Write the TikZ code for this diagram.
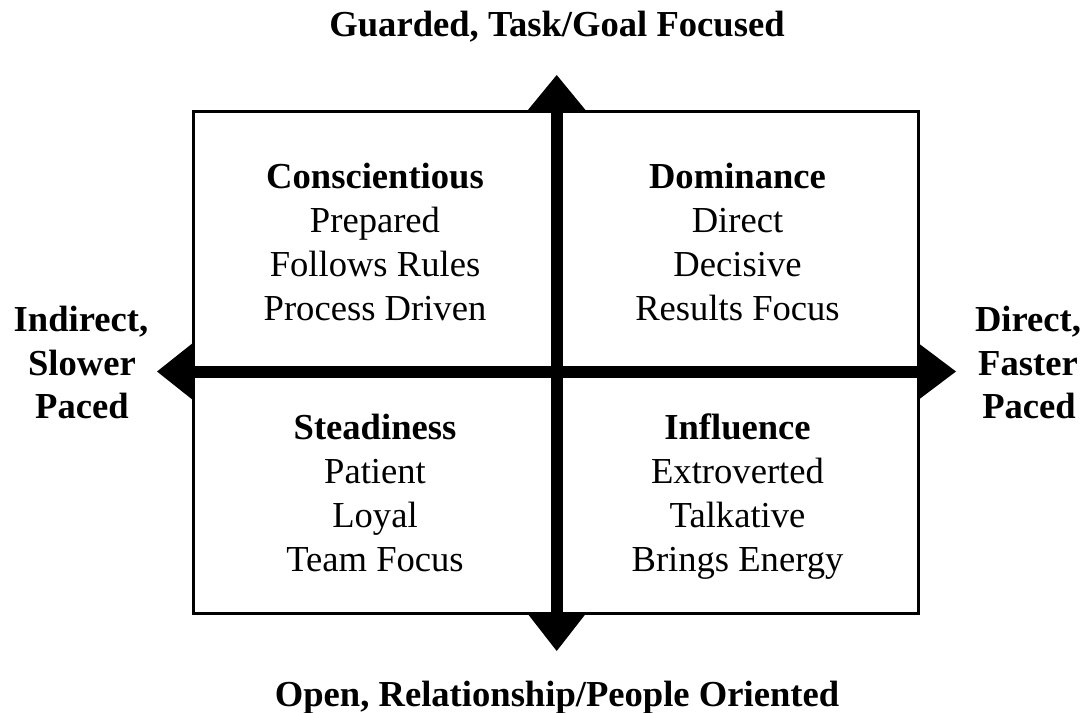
\documentclass[tikz,border=0pt]{standalone}
\usepackage{fontspec}
\setmainfont{Liberation Serif}
\begin{document}
\begin{tikzpicture}[x=1pt,y=-1pt,
  lbl/.style={anchor=base, inner sep=0pt, font=\fontsize{36.6}{44}\selectfont},
  hd/.style={anchor=base, inner sep=0pt, font=\fontsize{36.6}{44}\selectfont\bfseries},
  axis/.style={line width=12pt},
  head/.style={fill=black},
  frame/.style={line width=3pt}]
\useasboundingbox (0,0) rectangle (1086,712);
\fill[white] (0,0) rectangle (1086,712);
% frame
\coordinate (TL) at (193,111);
\coordinate (BR) at (918,613);
\draw[frame] (TL) rectangle (BR);
% axes
\coordinate (N) at (556.7,111);
\coordinate (S) at (556.7,613);
\coordinate (W) at (193,371.5);
\coordinate (E) at (918,371.5);
\draw[axis] (N) -- (S);
\draw[axis] (W) -- (E);
% arrow heads
\fill[head] (526.7,111.5) -- (556.7,75) -- (586.7,111.5) -- cycle;
\fill[head] (526.7,612.5) -- (556.7,651) -- (586.7,612.5) -- cycle;
\fill[head] (193.5,342.5) -- (157,371.5) -- (193.5,400.5) -- cycle;
\fill[head] (917.5,342.5) -- (956,371.5) -- (917.5,400.5) -- cycle;
% axis labels
\node[hd] (top) at (557,36.5) {Guarded, Task/Goal Focused};
\node[hd] (bot) at (557,706) {Open, Relationship/People Oriented};
\node[hd] (l1) at (81,331.5) {Indirect,};
\node[hd] (l2) at (82,375) {Slower};
\node[hd] (l3) at (82,418.5) {Paced};
\node[hd] (r1) at (1028,331.5) {Direct,};
\node[hd] (r2) at (1028,375) {Faster};
\node[hd] (r3) at (1029,418.5) {Paced};
% quadrant texts
\node[hd]  (c0) at (375,188) {Conscientious};
\node[lbl] (c1) at (375,232) {Prepared};
\node[lbl] (c2) at (375,276) {Follows Rules};
\node[lbl] (c3) at (375,320) {Process Driven};
\node[hd]  (d0) at (737.5,188) {Dominance};
\node[lbl] (d1) at (737.5,232) {Direct};
\node[lbl] (d2) at (737.5,276) {Decisive};
\node[lbl] (d3) at (737.5,320) {Results Focus};
\node[hd]  (s0) at (375,439) {Steadiness};
\node[lbl] (s1) at (375,483) {Patient};
\node[lbl] (s2) at (375,527) {Loyal};
\node[lbl] (s3) at (375,571) {Team Focus};
\node[hd]  (i0) at (737.5,439) {Influence};
\node[lbl] (i1) at (737.5,483) {Extroverted};
\node[lbl] (i2) at (737.5,527) {Talkative};
\node[lbl] (i3) at (737.5,571) {Brings Energy};
\end{tikzpicture}
\end{document}
